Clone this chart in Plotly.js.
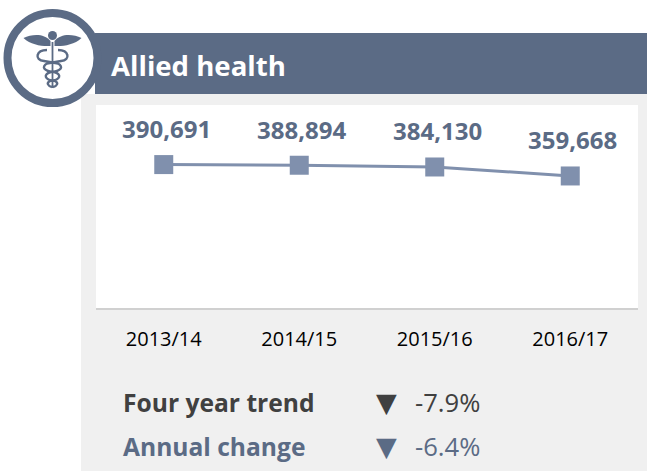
<!DOCTYPE html>
<html><head><meta charset="utf-8">
<script src="https://cdn.plot.ly/plotly-3.0.1.min.js"></script>
<style>html,body{margin:0;padding:0;background:#fff;overflow:hidden}#c{width:647px;height:471px}</style>
</head><body><div id="c"></div>
<script>
const years = ['2013/14','2014/15','2015/16','2016/17'];
const staff = [390691,388894,384130,359668];
const title = 'Allied health';
const trendLabel = 'Four year trend', trendValue = '-7.9%';
const annualLabel = 'Annual change', annualValue = '-6.4%';
const W=647,H=471, F='"Open Sans","Noto Sans",sans-serif';
const dark='#5b6b85', mark='#8090ad', ink='#404040';
const px=x=>x/W, py=y=>1-y/H;
const rect=(x0,y0,x1,y1,c)=>({type:'rect',xref:'paper',yref:'paper',x0:px(x0),x1:px(x1),y0:py(y1),y1:py(y0),fillcolor:c,line:{width:0},layer:'below'});
function P(d,c,lw,fill){return {type:'path',xref:'paper',yref:'paper',layer:'below',path:d,fillcolor:fill||'rgba(0,0,0,0)',line:{color:c,width:lw||0}};}
const pts=(s)=>s.replace(/(-?[\d.]+),(-?[\d.]+)/g,(m,a,b)=>(+a/W).toFixed(5)+','+(1-b/H).toFixed(5));
const icon=[
 P(pts('M23.5,38 C32,34 44,33 50.5,41 L50.5,46 C42,46.5 31,45 23.5,38 Z'),dark,0,dark),
 P(pts('M81.5,38 C73,34 61,33 54.5,41 L54.5,46 C63,46.5 74,45 81.5,38 Z'),dark,0,dark),
 P(pts('M52.5,42 L52.5,88'),dark,1.8),
 P(pts('M47,50 C36,50 34,60 44,61 L58,63.5 C64,67 61,71 51,72 C43,74 44,80 55,81 C59,83 57,86 53,87'),dark,2.4),
 P(pts('M58,50 C69,50 71,60 61,61 L47,63.5 C41,67 44,71 54,72 C62,74 61,80 50,81 C46,83 48,86 52,87'),dark,2.4),
];
const shapes=[
 rect(81,94,647,471,'#f0f0f0'),
 rect(95,33,647,94,'#5b6b85'),
 rect(96,105,638,308,'#ffffff'),
 {type:'circle',xref:'paper',yref:'paper',layer:'below',x0:px(7.5),x1:px(97.5),y0:py(103),y1:py(13),fillcolor:'#ffffff',line:{color:dark,width:8}},
 ...icon,
 {type:'circle',xref:'paper',yref:'paper',layer:'below',x0:px(48),x1:px(57),y0:py(40),y1:py(31),fillcolor:dark,line:{width:0}},
];
const ann=(t,x,y,o)=>Object.assign({text:t,xref:'paper',yref:'paper',x:px(x),y:py(y),showarrow:false,xanchor:'left',yanchor:'middle',font:{family:F,size:18,color:ink}},o||{});
const annotations=[
 ann('<b>'+title+'</b>',109,65,{font:{family:F,size:27.6,color:'#ffffff'}}),
 ann('<b>'+trendLabel+'</b>',121,402.5,{font:{family:F,size:24.6,color:ink}}),
 ann('▼',374,402.5,{font:{family:'DejaVu Sans',size:27,color:ink}}),
 ann(trendValue,412.5,402.5,{font:{family:F,size:25.6,color:ink}}),
 ann('<b>'+annualLabel+'</b>',121,446.5,{font:{family:F,size:24.6,color:dark}}),
 ann('▼',374,446.5,{font:{family:'DejaVu Sans',size:27,color:dark}}),
 ann(annualValue,412.5,446.5,{font:{family:F,size:25.6,color:dark}}),
 ...years.map((y,i)=>({text:'<b>'+staff[i].toLocaleString('en-US')+'</b>',xref:'x',yref:'y',x:y,y:staff[i],xshift:2.5,yshift:36,showarrow:false,xanchor:'center',yanchor:'middle',font:{family:F,size:24,color:dark}})),
];
Plotly.newPlot('c',[{
 type:'scatter',mode:'lines+markers',x:years,y:staff,
 line:{color:mark,width:3},marker:{symbol:'square',size:19,color:mark},cliponaxis:false,hoverinfo:'skip'
}],{
 width:W,height:H,margin:{l:0,r:0,t:0,b:0},showlegend:false,
 paper_bgcolor:'#ffffff',plot_bgcolor:'rgba(0,0,0,0)',
 xaxis:{domain:[px(96),px(638)],type:'category',range:[-0.5,3.5],showgrid:false,zeroline:false,showline:true,linecolor:'#d0d0d0',linewidth:2,ticks:'',ticklabelstandoff:12,tickfont:{family:F,size:20,color:'#000000'},automargin:false,anchor:'y'},
 yaxis:{domain:[py(308),py(105)],range:[0,553000],visible:false,fixedrange:true},
 shapes,annotations
},{displayModeBar:false,staticPlot:true});
</script></body></html>
